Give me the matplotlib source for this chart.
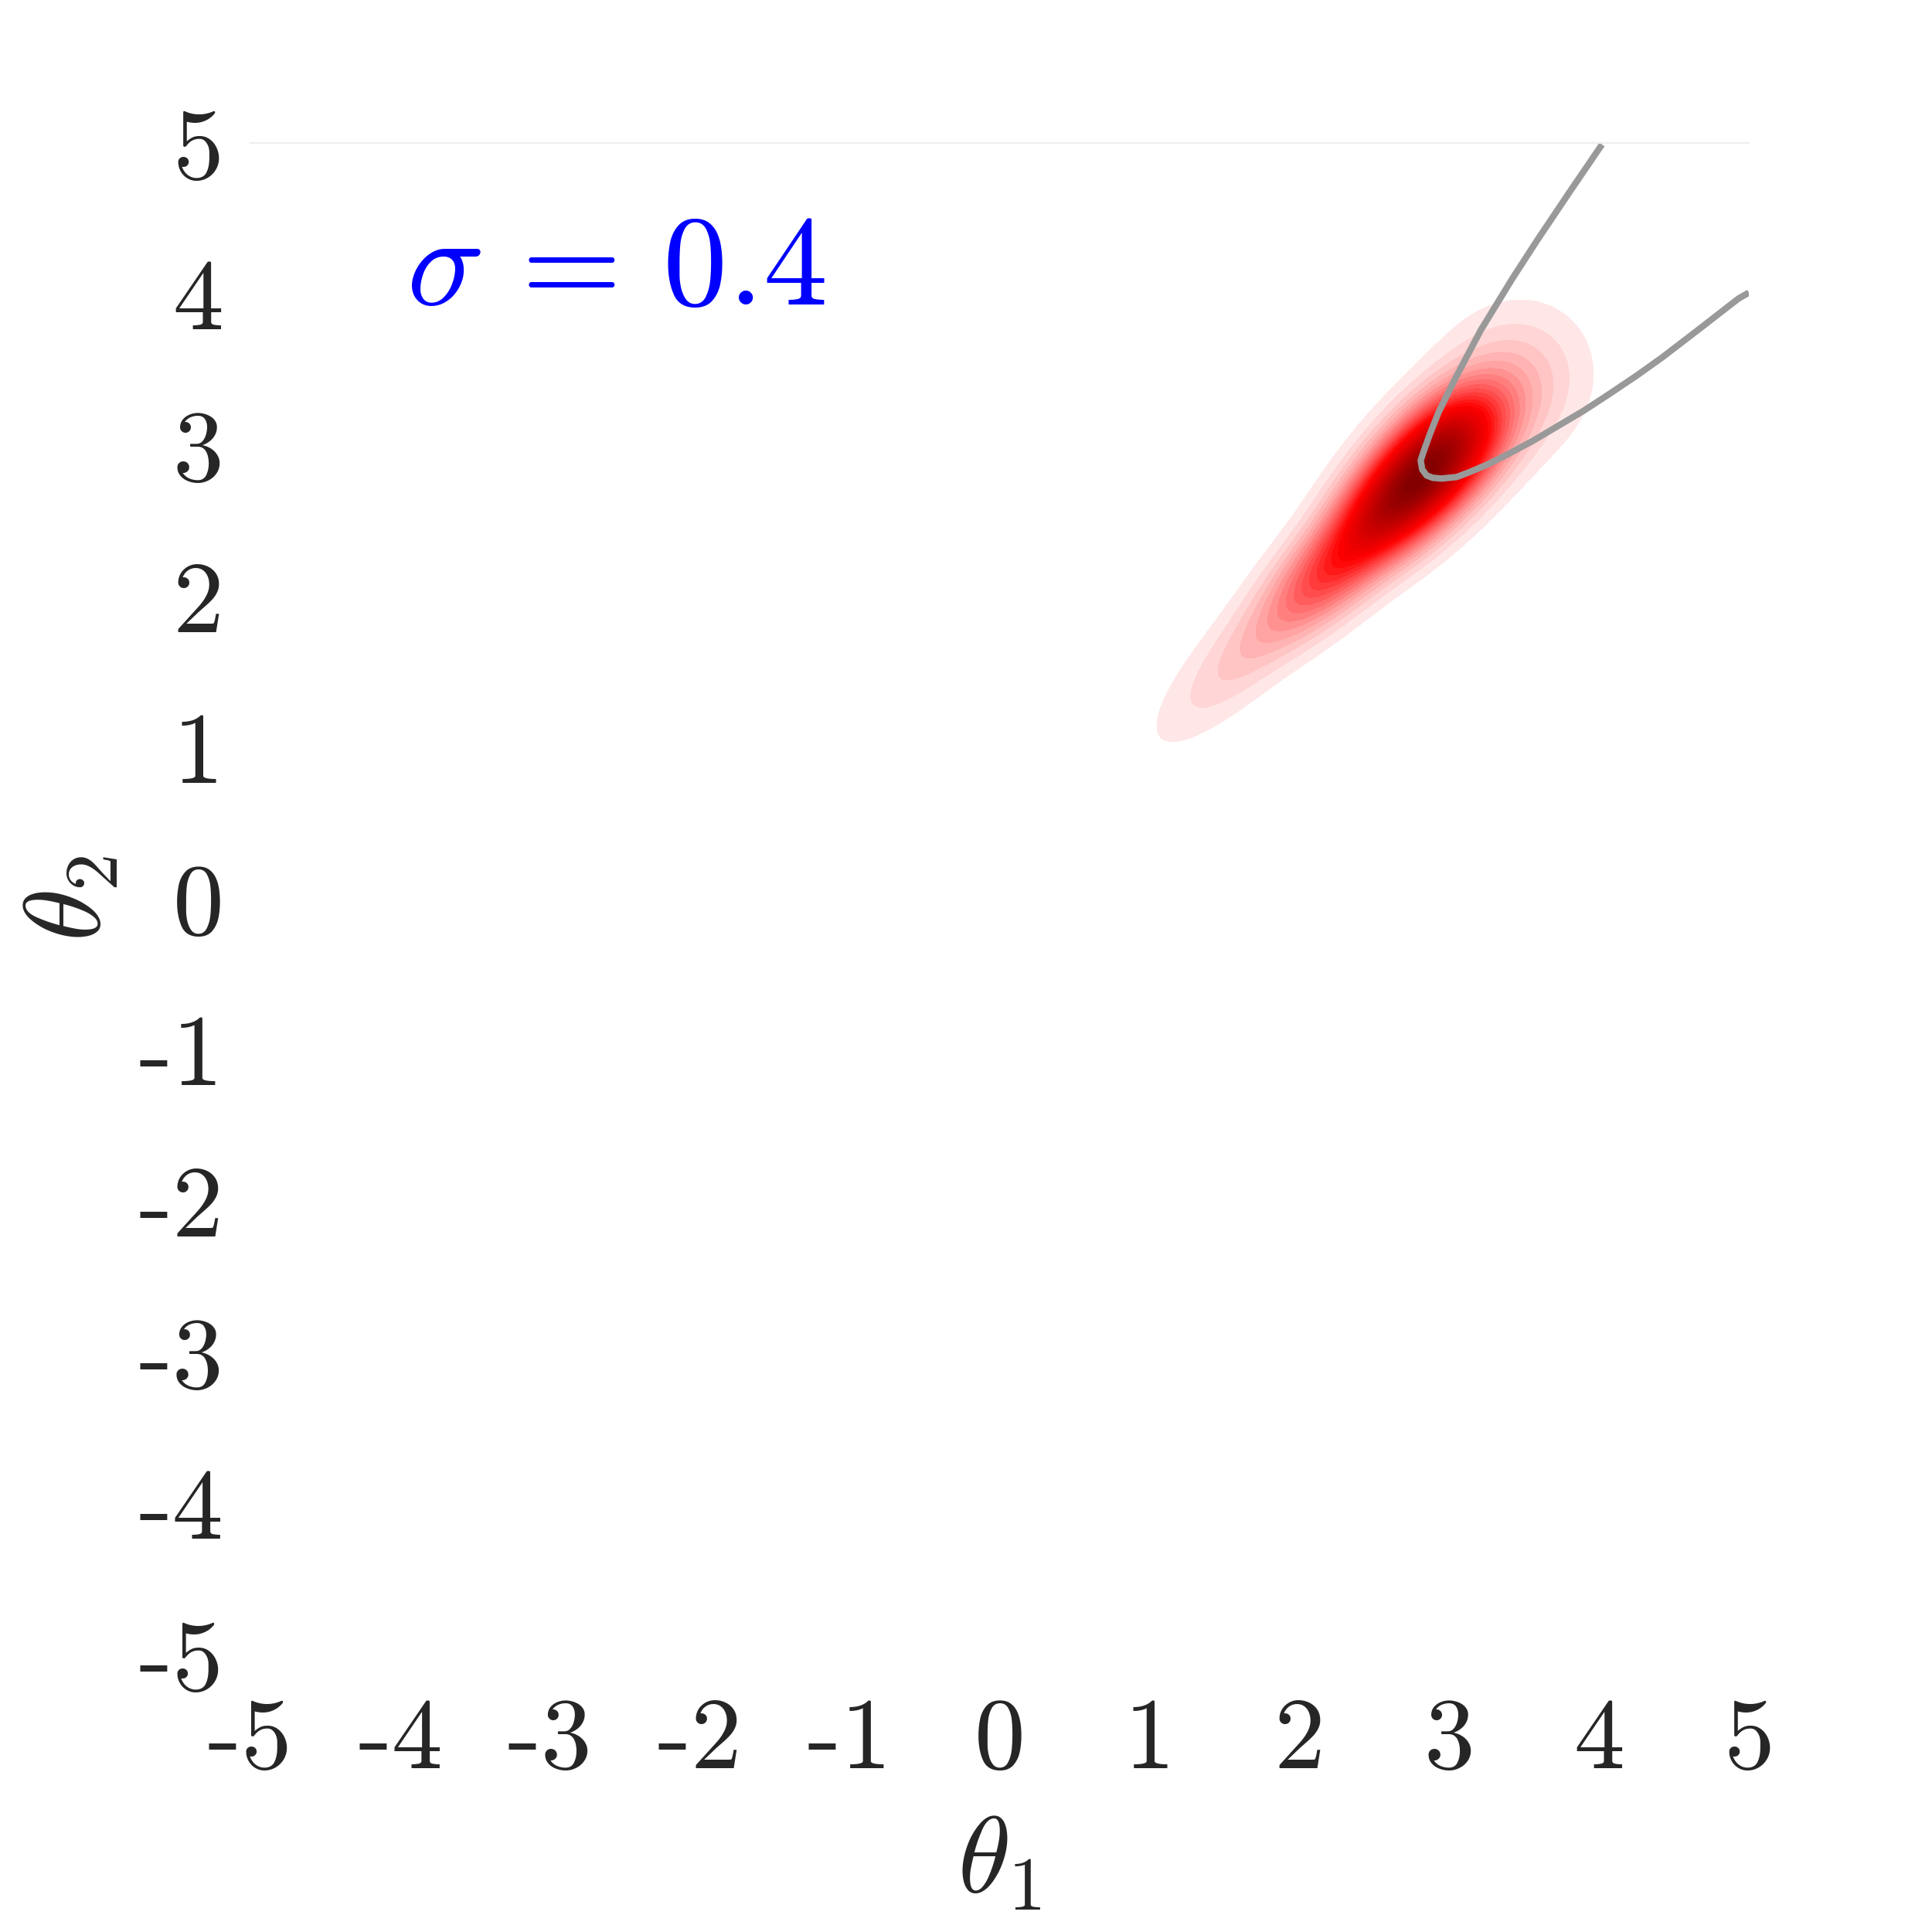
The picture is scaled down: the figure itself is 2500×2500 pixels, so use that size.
import numpy as np
import matplotlib
matplotlib.use("Agg")
import matplotlib.pyplot as plt
from matplotlib.colors import LinearSegmentedColormap

plt.rcParams["mathtext.fontset"] = "cm"
plt.rcParams["axes.unicode_minus"] = False

# posterior, approximated by a few gaussian blobs lying on the diagonal
blob_t1 = [3.00, 2.68, 2.25, 1.75, 3.45]
blob_t2 = [3.00, 2.66, 2.22, 1.74, 3.45]
blob_sd_along = [0.33, 0.33, 0.38, 0.60, 0.35]
blob_sd_across = [0.21, 0.20, 0.18, 0.17, 0.33]
blob_weight = [1.0, 1.0, 0.50, 0.19, 0.16]

# curve of parameters that reproduce the observation
curve_t1 = [4.02, 3.80, 3.59, 3.42, 3.21, 3.04, 2.93, 2.87, 2.83, 2.81, 2.82,
            2.85, 2.89, 2.95, 3.05, 3.13, 3.25, 3.39, 3.56, 3.73, 3.90,
            4.07, 4.25, 4.42, 4.67, 4.93, 5.00]
curve_t2 = [4.99, 4.67, 4.36, 4.10, 3.76, 3.44, 3.22, 3.07, 2.96, 2.90, 2.84,
            2.80, 2.785, 2.78, 2.79, 2.82, 2.87, 2.94, 3.03, 3.13, 3.23,
            3.34, 3.46, 3.58, 3.77, 3.97, 4.01]

ticks = [-5, -4, -3, -2, -1, 0, 1, 2, 3, 4, 5]
tick_labels = ["-5", "-4", "-3", "-2", "-1", "0", "1", "2", "3", "4", "5"]
sigma_text = r"$\sigma\,=\,0.4$"

# density on a grid
g = np.linspace(-5, 5, 700)
T1, T2 = np.meshgrid(g, g)
U = (T1 + T2) / np.sqrt(2)
V = (T2 - T1) / np.sqrt(2)
dens = np.zeros_like(T1)
for a, b, sa, sc, w in zip(blob_t1, blob_t2, blob_sd_along, blob_sd_across, blob_weight):
    cu = (a + b) / np.sqrt(2)
    cv = (b - a) / np.sqrt(2)
    dens += w * np.exp(-0.5 * ((U - cu) / sa) ** 2 - 0.5 * ((V - cv) / sc) ** 2)
dens /= dens.max()

cmap = LinearSegmentedColormap.from_list("wrd", ["#ffffff", "#ff0000", "#800000"])

fig = plt.figure(figsize=(10, 10), dpi=250)
ax = fig.add_axes([0.1296, 0.1436, 0.7756, 0.7824])
levels = np.linspace(0, 1.0001, 31)[1:]
ax.contourf(T1, T2, dens, levels=levels, cmap=cmap, vmin=0, vmax=1)
ax.plot(curve_t1, curve_t2, color="#999999", lw=2.4, solid_capstyle="butt",
        solid_joinstyle="round")

ax.text(-3.96, 3.93, sigma_text, color="blue", fontsize=48, va="baseline", ha="left")

ax.set_xlim(-5, 5)
ax.set_ylim(-5, 5)
ax.set_xticks(ticks)
ax.set_yticks(ticks)
ax.set_xticklabels(tick_labels, fontfamily="cmr10", fontsize=38, color="#262626")
ax.set_yticklabels(tick_labels, fontfamily="cmr10", fontsize=38, color="#262626")
ax.tick_params(axis="x", length=0, pad=16)
ax.tick_params(axis="y", length=0, pad=10)
ax.set_xlabel(r"$\theta_1$", fontsize=40, color="#262626", labelpad=8)
ax.set_ylabel(r"$\theta_2$", fontsize=40, color="#262626", labelpad=6)

for side in ["left", "right", "bottom"]:
    ax.spines[side].set_visible(False)
ax.spines["top"].set_color("#eeeeee")
ax.spines["top"].set_linewidth(0.6)

fig.savefig("out.png", dpi=250, facecolor="white")
